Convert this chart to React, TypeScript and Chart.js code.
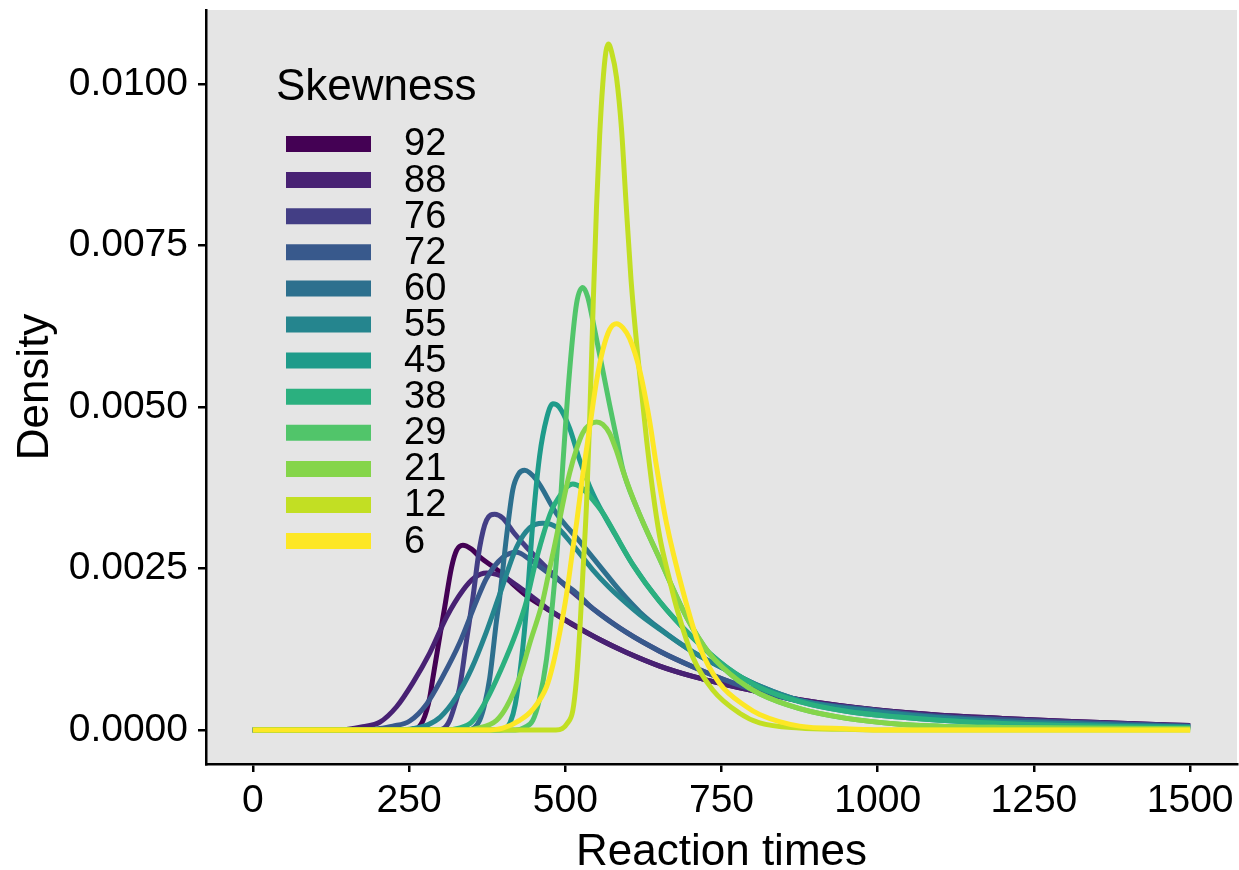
import React, { useEffect, useRef } from 'react';
import { Chart, registerables } from 'chart.js';

Chart.register(...registerables);

// ---- data ----
const skewLevels = ['92', '88', '76', '72', '60', '55', '45', '38', '29', '21', '12', '6'];
const lineColors = ['#440154', '#482173', '#433E85', '#38598C', '#2D708E', '#25858E', '#1E9B8A', '#2BB07F', '#51C56A', '#85D54A', '#C2DF23', '#FDE725'];
const xTicks = [0, 250, 500, 750, 1000, 1250, 1500];
const yTicks = [0, 0.0025, 0.005, 0.0075, 0.01];

// [reaction time, density]
const rt92 = [[0, 0], [250, 0], [258, 0.00001], [265, 0.00004], [272, 0.00014], [278, 0.0003], [283, 0.0005], [288, 0.0008], [294, 0.00115], [300, 0.0015], [307, 0.0019], [318, 0.00252], [326, 0.00278], [336, 0.00286], [350, 0.0028], [363, 0.00268], [395, 0.00245], [416, 0.00226], [438, 0.00208], [470, 0.00188], [510, 0.00164], [555, 0.0014], [598, 0.0012], [651, 0.00099], [704, 0.00083], [758, 0.0007], [800, 0.00061], [875, 0.00047], [1000, 0.00031], [1100, 0.00023], [1200, 0.00018], [1300, 0.000135], [1400, 0.0001], [1500, 0.00007]];
const rt88 = [[0, 0], [130, 0], [150, 0.00001], [176, 0.00005], [203, 0.00012], [230, 0.00036], [256, 0.00073], [283, 0.00119], [310, 0.00175], [336, 0.00216], [355, 0.00236], [374, 0.00243], [390, 0.00241], [405, 0.00235], [425, 0.00222], [450, 0.00204], [470, 0.00189], [510, 0.00165], [555, 0.0014], [598, 0.0012], [651, 0.00099], [704, 0.00083], [758, 0.0007], [800, 0.00061], [875, 0.00047], [1000, 0.00031], [1100, 0.00023], [1200, 0.00018], [1300, 0.000135], [1400, 0.0001], [1500, 0.00007]];
const rt76 = [[0, 0], [295, 0], [305, 0.00002], [315, 0.00015], [323, 0.00038], [331, 0.00066], [342, 0.00139], [352, 0.00204], [363, 0.00283], [374, 0.00325], [387, 0.00334], [400, 0.00328], [418, 0.00305], [438, 0.00283], [470, 0.00251], [512, 0.00213], [544, 0.00188], [598, 0.00151], [651, 0.00122], [704, 0.00098], [768, 0.00073], [800, 0.00063], [875, 0.00045], [1000, 0.0003], [1100, 0.00021], [1200, 0.00016], [1300, 0.00012], [1400, 0.00009], [1500, 0.00006]];
const rt72 = [[0, 0], [180, 0], [200, 0.00002], [224, 0.00006], [251, 0.00014], [278, 0.0004], [304, 0.00083], [331, 0.00135], [358, 0.002], [374, 0.00235], [400, 0.00267], [422, 0.00275], [443, 0.00264], [470, 0.00245], [491, 0.00231], [518, 0.00212], [544, 0.00188], [598, 0.00151], [651, 0.00122], [704, 0.00098], [768, 0.00073], [800, 0.00063], [875, 0.00045], [1000, 0.0003], [1100, 0.00021], [1200, 0.00016], [1300, 0.00012], [1400, 0.00009], [1500, 0.00006]];
const rt60 = [[0, 0], [345, 0], [355, 0.00004], [363, 0.00015], [371, 0.0004], [379, 0.0008], [390, 0.0017], [395, 0.00205], [406, 0.003], [416, 0.00372], [425, 0.00396], [435, 0.00402], [454, 0.00387], [486, 0.00335], [523, 0.00292], [560, 0.00248], [587, 0.00216], [620, 0.00182], [651, 0.00157], [704, 0.00121], [768, 0.00088], [811, 0.00068], [875, 0.00046], [1000, 0.00028], [1100, 0.00019], [1200, 0.00013], [1300, 0.0001], [1400, 0.00007], [1500, 0.00005]];
const rt55 = [[0, 0], [240, 0], [260, 0.00003], [280, 0.00008], [300, 0.0002], [325, 0.0005], [350, 0.00095], [373, 0.0015], [395, 0.0021], [422, 0.00283], [443, 0.00313], [464, 0.0032], [486, 0.00314], [510, 0.00289], [544, 0.00248], [570, 0.00221], [598, 0.00196], [620, 0.00178], [651, 0.00156], [704, 0.00121], [768, 0.00088], [811, 0.00068], [875, 0.00046], [1000, 0.00028], [1100, 0.00019], [1200, 0.00013], [1300, 0.0001], [1400, 0.00007], [1500, 0.00005]];
const rt45 = [[0, 0], [395, 0], [405, 0.00003], [412, 0.00012], [420, 0.0004], [430, 0.0011], [438, 0.0019], [448, 0.0032], [459, 0.00425], [470, 0.00482], [480, 0.00505], [490, 0.005], [507, 0.00467], [523, 0.00418], [544, 0.00366], [576, 0.00309], [608, 0.00256], [651, 0.00199], [704, 0.00143], [758, 0.00097], [811, 0.00066], [875, 0.00044], [950, 0.00029], [1035, 0.0002], [1100, 0.00015], [1200, 0.0001], [1300, 0.00007], [1400, 0.00005], [1500, 0.00004]];
const rt38 = [[0, 0], [310, 0], [330, 0.00003], [350, 0.00012], [373, 0.00045], [400, 0.001], [421, 0.0015], [438, 0.002], [450, 0.0025], [464, 0.003], [478, 0.0034], [491, 0.00362], [502, 0.00376], [512, 0.00381], [525, 0.00376], [539, 0.00362], [560, 0.00336], [576, 0.0031], [608, 0.00256], [651, 0.00199], [704, 0.00143], [758, 0.00097], [811, 0.00066], [875, 0.00044], [950, 0.00029], [1035, 0.0002], [1100, 0.00015], [1200, 0.0001], [1300, 0.00007], [1400, 0.00005], [1500, 0.00004]];
const rt29 = [[0, 0], [420, 0], [435, 0.00004], [448, 0.00015], [458, 0.00045], [470, 0.0011], [480, 0.002], [488, 0.0029], [496, 0.0041], [507, 0.00557], [518, 0.0066], [528, 0.00685], [536, 0.0067], [544, 0.00634], [560, 0.00557], [571, 0.00503], [582, 0.00452], [592, 0.00404], [614, 0.00345], [651, 0.00265], [694, 0.00175], [731, 0.00118], [779, 0.00075], [811, 0.00056], [875, 0.00033], [950, 0.00018], [1035, 0.00009], [1100, 0.00006], [1200, 0.00004], [1300, 0.00003], [1500, 0.00002]];
const rt21 = [[0, 0], [330, 0], [360, 0.00003], [390, 0.00015], [406, 0.00036], [427, 0.00082], [445, 0.0014], [455, 0.0017], [464, 0.002], [475, 0.0025], [486, 0.003], [496, 0.0035], [507, 0.00398], [518, 0.00435], [528, 0.0046], [539, 0.00473], [550, 0.00477], [560, 0.00473], [571, 0.00459], [582, 0.00432], [592, 0.00402], [614, 0.00345], [651, 0.00265], [694, 0.00175], [731, 0.00118], [779, 0.00075], [811, 0.00056], [875, 0.00033], [950, 0.00018], [1035, 0.00009], [1100, 0.00006], [1200, 0.00004], [1300, 0.00003], [1500, 0.00002]];
const rt12 = [[0, 0], [485, 0], [495, 0.00002], [503, 0.0001], [512, 0.0003], [518, 0.0008], [523, 0.0015], [528, 0.0024], [534, 0.0035], [539, 0.0048], [545, 0.0067], [550, 0.0081], [555, 0.0092], [560, 0.01], [565, 0.0105], [569, 0.01062], [574, 0.0105], [582, 0.0101], [590, 0.0093], [597, 0.0082], [605, 0.007], [617, 0.0057], [630, 0.0045], [640, 0.0037], [651, 0.003], [665, 0.0024], [678, 0.0019], [704, 0.00113], [736, 0.00062], [779, 0.00026], [811, 0.00011], [875, 0.00003], [950, 0.00001], [1000, 0], [1500, 0]];
const rt6 = [[0, 0], [370, 0], [400, 0.00003], [427, 0.00015], [448, 0.00032], [470, 0.00067], [480, 0.001], [491, 0.0015], [502, 0.0021], [512, 0.0028], [518, 0.0032], [528, 0.00395], [539, 0.00468], [550, 0.0054], [560, 0.00588], [571, 0.0062], [582, 0.00629], [592, 0.00623], [603, 0.00606], [619, 0.00557], [635, 0.00478], [646, 0.00408], [662, 0.0032], [688, 0.00216], [715, 0.00129], [747, 0.00072], [790, 0.00036], [811, 0.00024], [875, 0.00006], [950, 0.00002], [1000, 0], [1500, 0]];

const curves = [rt92, rt88, rt76, rt72, rt60, rt55, rt45, rt38, rt29, rt21, rt12, rt6];

const FONT = '"Liberation Sans", Arial, Helvetica, sans-serif';

const panelPlugin = {
  id: 'panelBg',
  beforeDraw(chart: any) {
    const { ctx, chartArea: a } = chart;
    ctx.save();
    ctx.fillStyle = '#E5E5E5';
    ctx.fillRect(a.left, a.top, a.right - a.left, a.bottom - a.top);
    ctx.restore();
  },
};

const legendPlugin = {
  id: 'skewLegend',
  afterDatasetsDraw(chart: any) {
    const ctx = chart.ctx;
    ctx.save();
    ctx.fillStyle = '#000';
    ctx.textBaseline = 'middle';
    ctx.textAlign = 'left';
    ctx.font = `44px ${FONT}`;
    ctx.fillText('Skewness', 276, 88);
    chart.data.datasets.forEach((ds: any, i: number) => {
      const y = 144 + i * 36.1;
      ctx.strokeStyle = ds.borderColor;
      ctx.lineWidth = 16;
      ctx.lineCap = 'butt';
      ctx.beginPath();
      ctx.moveTo(286, y);
      ctx.lineTo(371, y);
      ctx.stroke();
      ctx.fillStyle = '#000';
      ctx.font = `38px ${FONT}`;
      ctx.fillText(ds.label, 404, y + 1);
    });
    ctx.restore();
  },
};

const zeroPad = (scale: any) => {
  scale.paddingTop = 0;
  scale.paddingBottom = 0;
  scale.paddingLeft = 0;
  scale.paddingRight = 0;
};

export default function App() {
  const canvasRef = useRef<HTMLCanvasElement | null>(null);

  useEffect(() => {
    document.body.style.margin = '0';
    const canvas = canvasRef.current;
    if (!canvas) return;
    const datasets = curves.map((pts, i) => ({
      label: skewLevels[i],
      data: pts.map(([x, y]) => ({ x, y })),
      borderColor: lineColors[i],
      backgroundColor: lineColors[i],
      borderWidth: 5,
      pointRadius: 0,
      fill: false,
      cubicInterpolationMode: 'monotone' as const,
      order: curves.length - 1 - i,
    }));

    const chart = new Chart(canvas, {
      type: 'line',
      data: { datasets },
      plugins: [panelPlugin, legendPlugin],
      options: {
        animation: false,
        responsive: false,
        devicePixelRatio: 1,
        layout: { padding: { top: 10, right: 2, left: 0, bottom: 0 } },
        plugins: { legend: { display: false }, tooltip: { enabled: false } },
        scales: {
          x: {
            type: 'linear',
            min: -75,
            max: 1575,
            afterBuildTicks: (scale: any) => {
              scale.ticks = xTicks.map((v) => ({ value: v }));
            },
            afterFit: (scale: any) => {
              scale.height = 106;
              zeroPad(scale);
            },
            ticks: {
              color: '#000',
              font: { family: FONT, size: 39 },
              padding: 6,
              maxRotation: 0,
              autoSkip: false,
              callback: (v: any) => String(v),
            },
            grid: { display: true, drawOnChartArea: false, drawTicks: true, tickLength: 8, color: '#000', lineWidth: 2.5 },
            border: { display: true, color: '#000', width: 2.5 },
            title: {
              display: true,
              text: 'Reaction times',
              color: '#000',
              font: { family: FONT, size: 44, lineHeight: 0.8 },
              padding: { top: 0, bottom: 0 },
            },
          },
          y: {
            type: 'linear',
            min: -0.000526,
            max: 0.011146,
            afterBuildTicks: (scale: any) => {
              scale.ticks = yTicks.map((v) => ({ value: v }));
            },
            afterFit: (scale: any) => {
              scale.width = 206;
              zeroPad(scale);
            },
            ticks: {
              color: '#000',
              font: { family: FONT, size: 39 },
              padding: 10,
              autoSkip: false,
              callback: (v: any) => Number(v).toFixed(4),
            },
            grid: { display: true, drawOnChartArea: false, drawTicks: true, tickLength: 8, color: '#000', lineWidth: 2.5 },
            border: { display: true, color: '#000', width: 2.5 },
            title: {
              display: true,
              text: 'Density',
              color: '#000',
              font: { family: FONT, size: 44, lineHeight: 1.2 },
              padding: { top: 9, bottom: 0 },
            },
          },
        },
      },
    });
    return () => chart.destroy();
  }, []);

  return (
    <div style={{ width: 1239, height: 870, background: '#fff' }}>
      <canvas ref={canvasRef} width={1239} height={870} style={{ display: 'block' }} />
    </div>
  );
}
